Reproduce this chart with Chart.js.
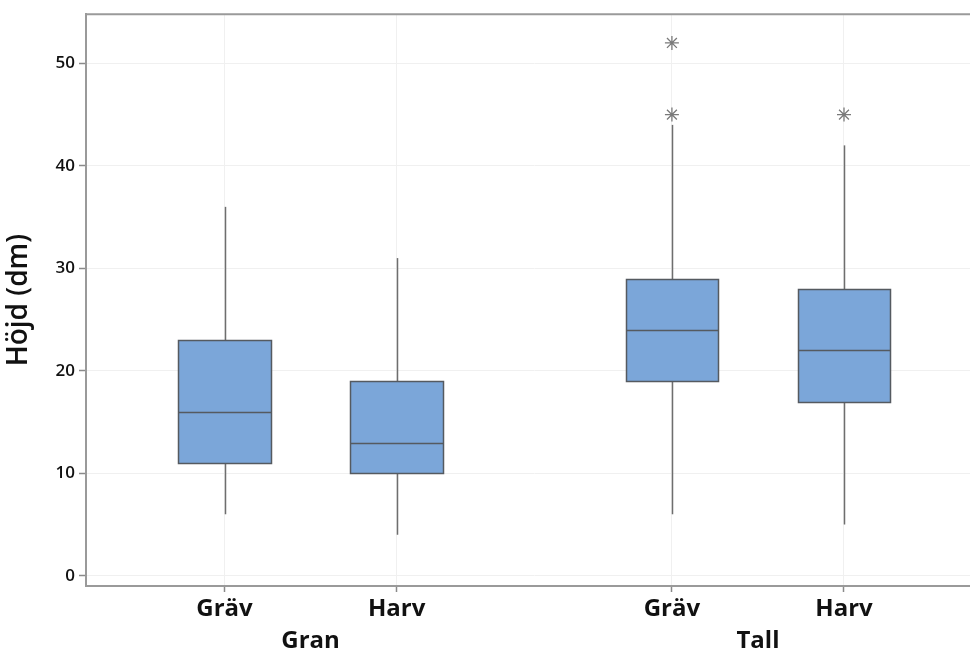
<!DOCTYPE html>
<html>
<head>
<meta charset="utf-8">
<script src="https://cdn.jsdelivr.net/npm/chart.js@4/dist/chart.umd.min.js"></script>
<style>
  html, body { margin: 0; padding: 0; overflow: hidden; background: #fff; }
  #wrap { width: 1000px; height: 653px; }
</style>
</head>
<body>
<div id="wrap"><canvas id="c"></canvas></div>
<script>
// ---- data ----
const groups = ['Gran', 'Tall'];
const methods = ['Gräv', 'Harv', 'Gräv', 'Harv'];
const positions = [1, 2, 3.6, 4.6];
const groupCenters = [1.5, 4.1];
const whiskerLow = [6, 4, 6, 5];
const q1 = [11, 10, 19, 17];
const median = [16, 13, 24, 22];
const q3 = [23, 19, 29, 28];
const whiskerHigh = [36, 31, 44, 42];
const outliers = [[], [], [45, 52], [45]];
const yTicks = [0, 10, 20, 30, 40, 50];

// ---- style ----
const FONT = "'Open Sans', 'Noto Sans', sans-serif";
const BOX_HALF = 0.268;
const X_MIN = 0.195, X_MAX = 5.402;

const outlierPoints = [];
outliers.forEach((arr, i) => arr.forEach(v => outlierPoints.push({ x: positions[i], y: v })));

const boxPlugin = {
  id: 'boxes',
  beforeDatasetsDraw(chart) {
    const { ctx, chartArea, scales: { x, y } } = chart;
    ctx.save();
    // top frame line
    ctx.strokeStyle = '#9a9a9a';
    ctx.lineWidth = 2;
    ctx.beginPath();
    ctx.moveTo(chartArea.left - 1, chartArea.top);
    ctx.lineTo(chartArea.right, chartArea.top);
    ctx.stroke();

    const line = (x1, y1, x2, y2) => { ctx.beginPath(); ctx.moveTo(x1, y1); ctx.lineTo(x2, y2); ctx.stroke(); };
    positions.forEach((p, i) => {
      const xc = Math.round(x.getPixelForValue(p)) + 0.5;
      const xl = Math.round(x.getPixelForValue(p - BOX_HALF)) + 0.5;
      const xr = Math.round(x.getPixelForValue(p + BOX_HALF)) + 0.5;
      const yq1 = Math.round(y.getPixelForValue(q1[i])) + 0.5;
      const yq3 = Math.round(y.getPixelForValue(q3[i])) + 0.5;
      const ym = Math.round(y.getPixelForValue(median[i])) + 0.5;
      const ylo = y.getPixelForValue(whiskerLow[i]);
      const yhi = y.getPixelForValue(whiskerHigh[i]);
      ctx.strokeStyle = '#6e6e6e';
      ctx.lineWidth = 1.5;
      line(xc, yhi, xc, yq3);
      line(xc, yq1, xc, ylo);
      ctx.fillStyle = '#7ba6d9';
      ctx.fillRect(xl, yq3, xr - xl, yq1 - yq3);
      ctx.strokeStyle = '#555a60';
      ctx.lineWidth = 1.5;
      ctx.strokeRect(xl, yq3, xr - xl, yq1 - yq3);
      line(xl, ym, xr, ym);
    });
    ctx.restore();
  }
};

new Chart(document.getElementById('c'), {
  type: 'scatter',
  data: {
    datasets: [{
      data: outlierPoints,
      pointStyle: 'star',
      radius: 7,
      borderColor: '#7a7a7a',
      backgroundColor: '#7a7a7a',
      borderWidth: 1.3
    }]
  },
  options: {
    responsive: true,
    maintainAspectRatio: false,
    animation: false,
    layout: { padding: { top: 14, right: 18, left: 0, bottom: 0 } },
    plugins: { legend: { display: false }, tooltip: { enabled: false } },
    scales: {
      x: {
        type: 'linear',
        position: 'bottom',
        min: X_MIN, max: X_MAX,
        afterBuildTicks: s => { s.ticks = positions.map(v => ({ value: v })); },
        afterFit: s => { s.height = 41; },
        ticks: {
          callback: (v, i) => methods[i],
          font: { family: FONT, size: 24, weight: '700' },
          color: '#111',
          padding: 3,
          maxRotation: 0, autoSkip: false
        },
        grid: { color: '#f0f0f0', lineWidth: 1, tickLength: 6, tickColor: '#8a8a8a', tickWidth: 1.5 },
        border: { display: true, color: '#9a9a9a', width: 2 }
      },
      x2: {
        type: 'linear',
        position: 'bottom',
        min: X_MIN, max: X_MAX,
        afterBuildTicks: s => { s.ticks = groupCenters.map(v => ({ value: v })); },
        afterFit: s => { s.height = 26; },
        ticks: {
          callback: (v, i) => groups[i],
          font: { family: FONT, size: 24, weight: '700' },
          color: '#111',
          padding: 0,
          maxRotation: 0, autoSkip: false
        },
        grid: { display: false, drawTicks: false },
        border: { display: false }
      },
      y: {
        type: 'linear',
        min: -1, max: 54.8,
        afterBuildTicks: s => { s.ticks = yTicks.map(v => ({ value: v })); },
        afterFit: s => { s.width = 86; },
        ticks: {
          font: { family: FONT, size: 17, weight: '600' },
          color: '#111',
          padding: 4
        },
        grid: { color: '#f0f0f0', lineWidth: 1, tickLength: 7, tickColor: '#8a8a8a', tickWidth: 1.5 },
        border: { display: true, color: '#9a9a9a', width: 2 },
        title: {
          display: true,
          text: 'Höjd (dm)',
          font: { family: FONT, size: 28, weight: '600' },
          color: '#111',
          padding: { top: 2, bottom: 0 }
        }
      }
    }
  },
  plugins: [boxPlugin]
});
</script>
</body>
</html>
